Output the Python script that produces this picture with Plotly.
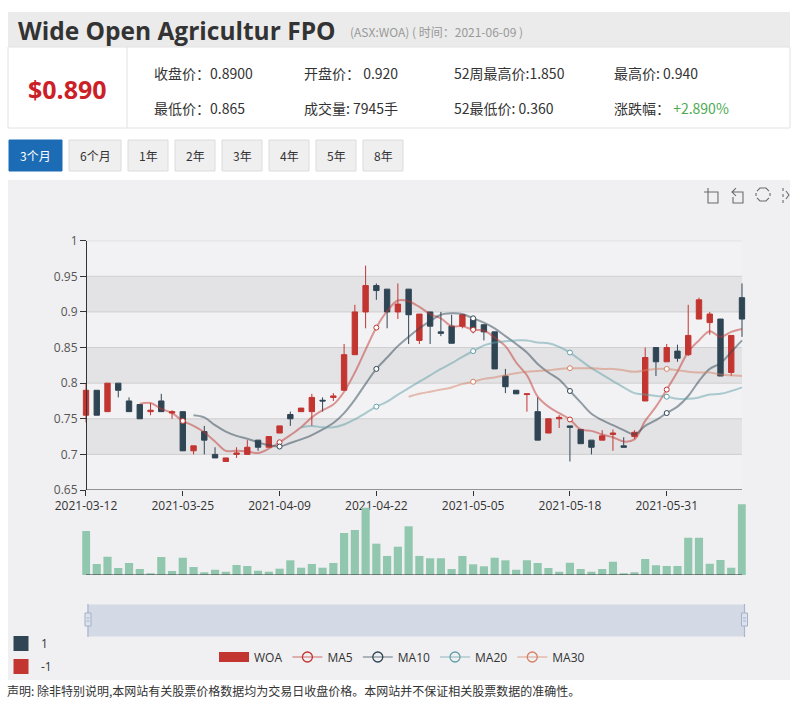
import plotly.graph_objects as go

# ---------------- data ----------------
dates = [
    "2021-03-12", "2021-03-15", "2021-03-16", "2021-03-17", "2021-03-18", "2021-03-19",
    "2021-03-22", "2021-03-23", "2021-03-24", "2021-03-25", "2021-03-26", "2021-03-29",
    "2021-03-30", "2021-03-31", "2021-04-01", "2021-04-06", "2021-04-07", "2021-04-08",
    "2021-04-09", "2021-04-12", "2021-04-13", "2021-04-14", "2021-04-15", "2021-04-16",
    "2021-04-19", "2021-04-20", "2021-04-21", "2021-04-22", "2021-04-23", "2021-04-26",
    "2021-04-27", "2021-04-28", "2021-04-29", "2021-04-30", "2021-05-03", "2021-05-04",
    "2021-05-05", "2021-05-06", "2021-05-07", "2021-05-10", "2021-05-11", "2021-05-12",
    "2021-05-13", "2021-05-14", "2021-05-17", "2021-05-18", "2021-05-19", "2021-05-20",
    "2021-05-21", "2021-05-24", "2021-05-25", "2021-05-26", "2021-05-27", "2021-05-28",
    "2021-05-31", "2021-06-01", "2021-06-02", "2021-06-03", "2021-06-04", "2021-06-07",
    "2021-06-08", "2021-06-09",
]
opens = [0.755, 0.79, 0.76, 0.80, 0.775, 0.77, 0.76, 0.775, 0.758, 0.76,
         0.705, 0.732, 0.70, 0.69, 0.70, 0.70, 0.72, 0.71, 0.73, 0.756,
         0.76, 0.76, 0.776, 0.78, 0.79, 0.84, 0.90, 0.937, 0.932, 0.90,
         0.932, 0.86, 0.90, 0.872, 0.88, 0.88, 0.89, 0.882, 0.872, 0.81,
         0.79, 0.784, 0.76, 0.73, 0.75, 0.74, 0.735, 0.72, 0.72, 0.728,
         0.712, 0.725, 0.775, 0.85, 0.83, 0.845, 0.84, 0.89, 0.885, 0.89,
         0.815, 0.92]
highs = [0.80, 0.79, 0.80, 0.80, 0.78, 0.77, 0.772, 0.785, 0.762, 0.76,
         0.712, 0.74, 0.71, 0.695, 0.71, 0.72, 0.72, 0.725, 0.74, 0.76,
         0.765, 0.785, 0.78, 0.786, 0.855, 0.91, 0.965, 0.94, 0.932, 0.94,
         0.932, 0.897, 0.90, 0.90, 0.896, 0.896, 0.89, 0.882, 0.872, 0.82,
         0.79, 0.785, 0.78, 0.75, 0.755, 0.74, 0.735, 0.72, 0.734, 0.735,
         0.724, 0.734, 0.85, 0.85, 0.855, 0.854, 0.91, 0.92, 0.90, 0.89,
         0.867, 0.94]
lows = [0.745, 0.755, 0.76, 0.78, 0.76, 0.75, 0.755, 0.76, 0.75, 0.705,
        0.70, 0.70, 0.695, 0.69, 0.695, 0.70, 0.705, 0.71, 0.73, 0.74,
        0.76, 0.74, 0.76, 0.775, 0.79, 0.84, 0.877, 0.917, 0.877, 0.89,
        0.855, 0.855, 0.855, 0.866, 0.856, 0.877, 0.87, 0.86, 0.82, 0.786,
        0.785, 0.76, 0.72, 0.73, 0.737, 0.69, 0.715, 0.70, 0.72, 0.705,
        0.71, 0.722, 0.775, 0.81, 0.83, 0.83, 0.838, 0.89, 0.868, 0.81,
        0.81, 0.865]
closes = [0.79, 0.755, 0.80, 0.79, 0.76, 0.75, 0.762, 0.76, 0.76, 0.705,
          0.712, 0.72, 0.695, 0.695, 0.702, 0.71, 0.71, 0.725, 0.74, 0.75,
          0.765, 0.78, 0.775, 0.782, 0.84, 0.90, 0.937, 0.93, 0.90, 0.911,
          0.896, 0.897, 0.88, 0.87, 0.856, 0.896, 0.875, 0.872, 0.82, 0.795,
          0.785, 0.785, 0.72, 0.75, 0.752, 0.738, 0.715, 0.71, 0.726, 0.73,
          0.71, 0.731, 0.836, 0.83, 0.85, 0.835, 0.867, 0.917, 0.897, 0.81,
          0.867, 0.89]
volumes = [4950, 1240, 2060, 790, 1350, 670, 190, 2020, 450, 1940,
           900, 300, 600, 370, 1120, 1010, 480, 370, 710, 1650,
           820, 1240, 820, 1350, 4720, 5060, 7560, 3520, 2140, 3180,
           5470, 2140, 1880, 1880, 670, 2140, 1200, 980, 1940, 1650,
           600, 1650, 1350, 790, 370, 1380, 670, 370, 670, 1500,
           190, 300, 1800, 1090, 1010, 1010, 4190, 4190, 1270, 1690,
           820, 7945]

x_tick_labels = ["2021-03-12", "2021-03-25", "2021-04-09", "2021-04-22",
                 "2021-05-05", "2021-05-18", "2021-05-31"]
y_ticks = [0.65, 0.7, 0.75, 0.8, 0.85, 0.9, 0.95, 1.0]
y_tick_labels = ["0.65", "0.7", "0.75", "0.8", "0.85", "0.9", "0.95", "1"]

ma_periods = [5, 10, 20, 30]
ma_names = ["MA5", "MA10", "MA20", "MA30"]
ma_colors = ["#c23531", "#2f4554", "#61a0a8", "#d48265"]

stock_name = "Wide Open Agricultur FPO"
stock_sub = "(ASX:WOA) ( 时间：2021-06-09 )"
price_text = "$0.890"
info_row1 = ["收盘价：0.8900", "开盘价： 0.920", "52周最高价:1.850", "最高价: 0.940"]
info_row2 = ["最低价：0.865", "成交量: 7945手", "52最低价: 0.360", "涨跌幅： "]
change_text = "+2.890%"
button_labels = ["3个月", "6个月", "1年", "2年", "3年", "4年", "5年", "8年"]
disclaimer = "声明: 除非特别说明,本网站有关股票价格数据均为交易日收盘价格。本网站并不保证相关股票数据的准确性。"

# ---------------- helpers ----------------
W, H = 804, 716
def px(x):
    return x / W
def py(y):
    return 1 - y / H

FONT = "Open Sans, Noto Sans CJK SC, sans-serif"
CJK = "Noto Sans CJK SC, Open Sans, sans-serif"
UP = "#c23531"
DOWN = "#2f4554"

xs = list(range(len(dates)))
tick_idx = [dates.index(d) for d in x_tick_labels]
n_last = xs[-1]

def calc_ma(n):
    out = []
    for i in range(len(closes)):
        if i < n:
            out.append(None)
            continue
        out.append(round(sum(closes[i - j] for j in range(n)) / n, 3))
    return out

def rgba(hexc, a):
    h = hexc.lstrip("#")
    return "rgba(%d,%d,%d,%s)" % (int(h[0:2], 16), int(h[2:4], 16), int(h[4:6], 16), a)

fig = go.Figure()

# candlesticks
fig.add_trace(go.Candlestick(
    x=xs, open=opens, high=highs, low=lows, close=closes,
    increasing=dict(line=dict(color=UP, width=1), fillcolor=UP),
    decreasing=dict(line=dict(color=DOWN, width=1), fillcolor=DOWN),
    whiskerwidth=0, showlegend=False, name="WOA",
))

# moving averages
for n, name, col in zip(ma_periods, ma_names, ma_colors):
    ma = calc_ma(n)
    fig.add_trace(go.Scatter(
        x=xs, y=ma, mode="lines", line=dict(color=rgba(col, 0.5), width=2, shape="spline", smoothing=1.0),
        showlegend=False, name=name, hoverinfo="skip"))
    mx = [i for i in tick_idx if ma[i] is not None]
    fig.add_trace(go.Scatter(
        x=mx, y=[ma[i] for i in mx], mode="markers",
        marker=dict(symbol="circle", size=5, color="white", line=dict(color=col, width=1)),
        showlegend=False, hoverinfo="skip"))

# volume
fig.add_trace(go.Bar(x=xs, y=volumes, xaxis="x2", yaxis="y2", marker=dict(color="#91c7ae", line=dict(width=0)),
                     showlegend=False, name="volume"))

# legend entries
fig.add_trace(go.Scatter(x=[None], y=[None], mode="lines", line=dict(color=UP, width=14), name="WOA", legend="legend"))
for name, col in zip(ma_names, ma_colors):
    fig.add_trace(go.Scatter(x=[None], y=[None], mode="lines+markers", name=name, legend="legend",
                             line=dict(color=rgba(col, 0.7), width=1.2),
                             marker=dict(symbol="circle", size=10, color="rgba(255,255,255,0)",
                                         line=dict(color=col, width=1.3))))
fig.add_trace(go.Scatter(x=[None], y=[None], mode="markers", name="1", legend="legend2", legendgroup="a",
                         marker=dict(symbol="square", size=15, color=DOWN)))
fig.add_trace(go.Scatter(x=[None], y=[None], mode="markers", name="-1", legend="legend2", legendgroup="b",
                         marker=dict(symbol="square", size=15, color=UP)))

# ---------------- shapes ----------------
shapes = []
# header
shapes.append(dict(type="rect", xref="paper", yref="paper", x0=px(8), x1=px(790), y0=py(47), y1=py(12),
                   fillcolor="#ebebeb", line=dict(width=0), layer="below"))
shapes.append(dict(type="rect", xref="paper", yref="paper", x0=px(8), x1=px(790), y0=py(128), y1=py(47),
                   fillcolor="white", line=dict(color="#e2e2e2", width=1), layer="below"))
shapes.append(dict(type="line", xref="paper", yref="paper", x0=px(127), x1=px(127), y0=py(128), y1=py(47),
                   line=dict(color="#e2e2e2", width=1), layer="below"))
# buttons
button_x = [(9, 62), (69, 121), (128, 168), (175, 215), (222, 262), (269, 309), (316, 356), (363, 403)]
for k, (a, b) in enumerate(button_x):
    active = k == 0
    shapes.append(dict(type="rect", xref="paper", yref="paper", x0=px(a), x1=px(b), y0=py(171), y1=py(140),
                       fillcolor="#1c6bb5" if active else "#efefef",
                       line=dict(color="#1c6bb5" if active else "#dcdcdc", width=1), layer="below"))
# chart container
shapes.append(dict(type="rect", xref="paper", yref="paper", x0=px(8), x1=px(790), y0=py(680), y1=py(180),
                   fillcolor="#f0f0f2", line=dict(width=0), layer="below"))
# split areas + grid lines
for k in range(len(y_ticks) - 1):
    shapes.append(dict(type="rect", xref="x", yref="y", x0=0, x1=n_last, y0=y_ticks[k], y1=y_ticks[k + 1],
                       fillcolor="rgba(200,200,200,0.3)" if k % 2 == 1 else "rgba(250,250,250,0.3)",
                       line=dict(width=0), layer="below"))
for v in y_ticks[1:]:
    shapes.append(dict(type="line", xref="x", yref="y", x0=0, x1=n_last, y0=v, y1=v,
                       line=dict(color="#cfcfcf", width=1), layer="below"))
# x axis line of the price chart and volume baseline
shapes.append(dict(type="line", xref="x", yref="y", x0=0, x1=n_last, y0=y_ticks[0], y1=y_ticks[0],
                   line=dict(color="#333", width=1)))
shapes.append(dict(type="line", xref="x2", yref="y2", x0=0, x1=n_last, y0=0, y1=0,
                   line=dict(color="#333", width=1)))
# data zoom slider
shapes.append(dict(type="rect", xref="paper", yref="paper", x0=px(88), x1=px(744.5), y0=py(636), y1=py(605),
                   fillcolor="#d3d9e5", line=dict(color="#d3d9e5", width=1), layer="below"))
for hx in (88, 744.5):
    shapes.append(dict(type="line", xref="paper", yref="paper", x0=px(hx), x1=px(hx), y0=py(637), y1=py(604),
                       line=dict(color="#a9b6cb", width=1.2)))
    shapes.append(dict(type="rect", xref="paper", yref="paper", x0=px(hx - 3), x1=px(hx + 3), y0=py(626), y1=py(613),
                       fillcolor="#dde3ee", line=dict(color="#a3b1c8", width=1)))
    shapes.append(dict(type="line", xref="paper", yref="paper", x0=px(hx - 1.5), x1=px(hx + 1.5), y0=py(618), y1=py(618),
                       line=dict(color="#a3b1c8", width=1)))
    shapes.append(dict(type="line", xref="paper", yref="paper", x0=px(hx - 1.5), x1=px(hx + 1.5), y0=py(621), y1=py(621),
                       line=dict(color="#a3b1c8", width=1)))

# toolbox icons (drawn in pixel space)
def pth(points):
    s = ""
    for seg in points:
        s += "M%.4f,%.4f " % (px(seg[0][0]), py(seg[0][1]))
        for p in seg[1:]:
            s += "L%.4f,%.4f " % (px(p[0]), py(p[1]))
    return s
icon_style = dict(color="#6b6b6b", width=1.1)
icons = [
    [[(704, 192), (718, 192), (718, 203), (708, 203), (708, 188)]],
    [[(736, 188), (732, 192), (736, 196)], [(732, 192), (743, 192), (743, 203), (733, 203), (733, 197)]],
    [[(757, 191), (760, 188), (766, 188), (769, 191)], [(769, 198), (766, 201), (760, 201), (757, 198)],
     [(756, 193), (756, 196)], [(770, 193), (770, 196)]],
    [[(783, 188), (783, 191)], [(783, 194), (783, 197)], [(783, 200), (783, 203)],
     [(786, 191), (789, 195), (786, 199)]],
]
for ic in icons:
    shapes.append(dict(type="path", xref="paper", yref="paper", path=pth(ic), line=icon_style))

# ---------------- annotations ----------------
ann = []
def text(x, y, s, size=12, color="#333", family=CJK, anchor="left", weight=None):
    f = dict(size=size, color=color, family=family)
    if weight:
        f["weight"] = weight
    ann.append(dict(xref="paper", yref="paper", x=px(x), y=py(y), text=s, showarrow=False,
                    xanchor=anchor, yanchor="middle", font=f))

text(16, 30, stock_name, size=24.5, color="#333", family=FONT, weight=700)
text(348, 31, stock_sub, size=12, color="#999")
text(67, 89, price_text, size=25, color="#cc2027", family=FONT, anchor="center", weight=700)
col_x = [152, 302, 452, 612]
for cx, s in zip(col_x, info_row1):
    text(cx, 73, s, size=14)
for cx, s in zip(col_x, info_row2):
    if s.startswith("涨跌幅"):
        s = s + '<span style="color:#4eaa52">' + change_text + "</span>"
    text(cx, 108, s, size=14)
for (a, b), lab, k in zip(button_x, button_labels, range(len(button_labels))):
    text((a + b) / 2, 156, lab, size=12, color="white" if k == 0 else "#333", anchor="center")
text(5, 690, disclaimer, size=12, color="#333")

# ---------------- layout ----------------
rng = [-0.35, n_last + 0.35]
x_left = 86 - 0.35 * (656 / n_last)
x_right = 742 + 0.35 * (656 / n_last)
fig.update_layout(
    width=W, height=H, margin=dict(l=0, r=0, t=0, b=0, pad=0, autoexpand=False),
    paper_bgcolor="white", plot_bgcolor="rgba(0,0,0,0)",
    font=dict(family=FONT, size=12, color="#333"),
    boxgap=0.5, boxgroupgap=0, bargap=0.24,
    xaxis=dict(domain=[px(x_left), px(x_right)], range=rng, anchor="y",
               showgrid=False, zeroline=False, showline=False, automargin=False,
               tickmode="array", tickvals=tick_idx, ticktext=x_tick_labels,
               ticks="outside", ticklen=5, tickcolor="#333",
               tickfont=dict(size=12, color="#333", family=FONT),
               rangeslider=dict(visible=False), fixedrange=True),
    yaxis=dict(domain=[py(490), py(240.7)], range=[y_ticks[0], y_ticks[-1]], anchor="free", position=px(86),
               showgrid=False, zeroline=False, showline=True, linecolor="#333", linewidth=1, automargin=False,
               tickmode="array", tickvals=y_ticks, ticktext=y_tick_labels,
               ticks="outside", ticklen=6, tickcolor="#333",
               tickfont=dict(size=12, color="#555", family=FONT), fixedrange=True),
    xaxis2=dict(domain=[px(x_left), px(x_right)], range=rng, anchor="y2", visible=False, fixedrange=True),
    yaxis2=dict(domain=[py(575), py(503.8)], range=[0, 8000], anchor="x2", visible=False, fixedrange=True),
    legend=dict(orientation="h", x=0.5, xanchor="center", y=py(657), yanchor="middle",
                font=dict(size=12, color="#333", family=FONT), bgcolor="rgba(0,0,0,0)", itemwidth=30),
    legend2=dict(orientation="v", x=px(1), xanchor="left", y=py(629), yanchor="top",
                 font=dict(size=12, color="#333", family=FONT), bgcolor="rgba(0,0,0,0)", tracegroupgap=4),
    shapes=shapes, annotations=ann,
)

fig.write_html("out.html", config={"displayModeBar": False})
